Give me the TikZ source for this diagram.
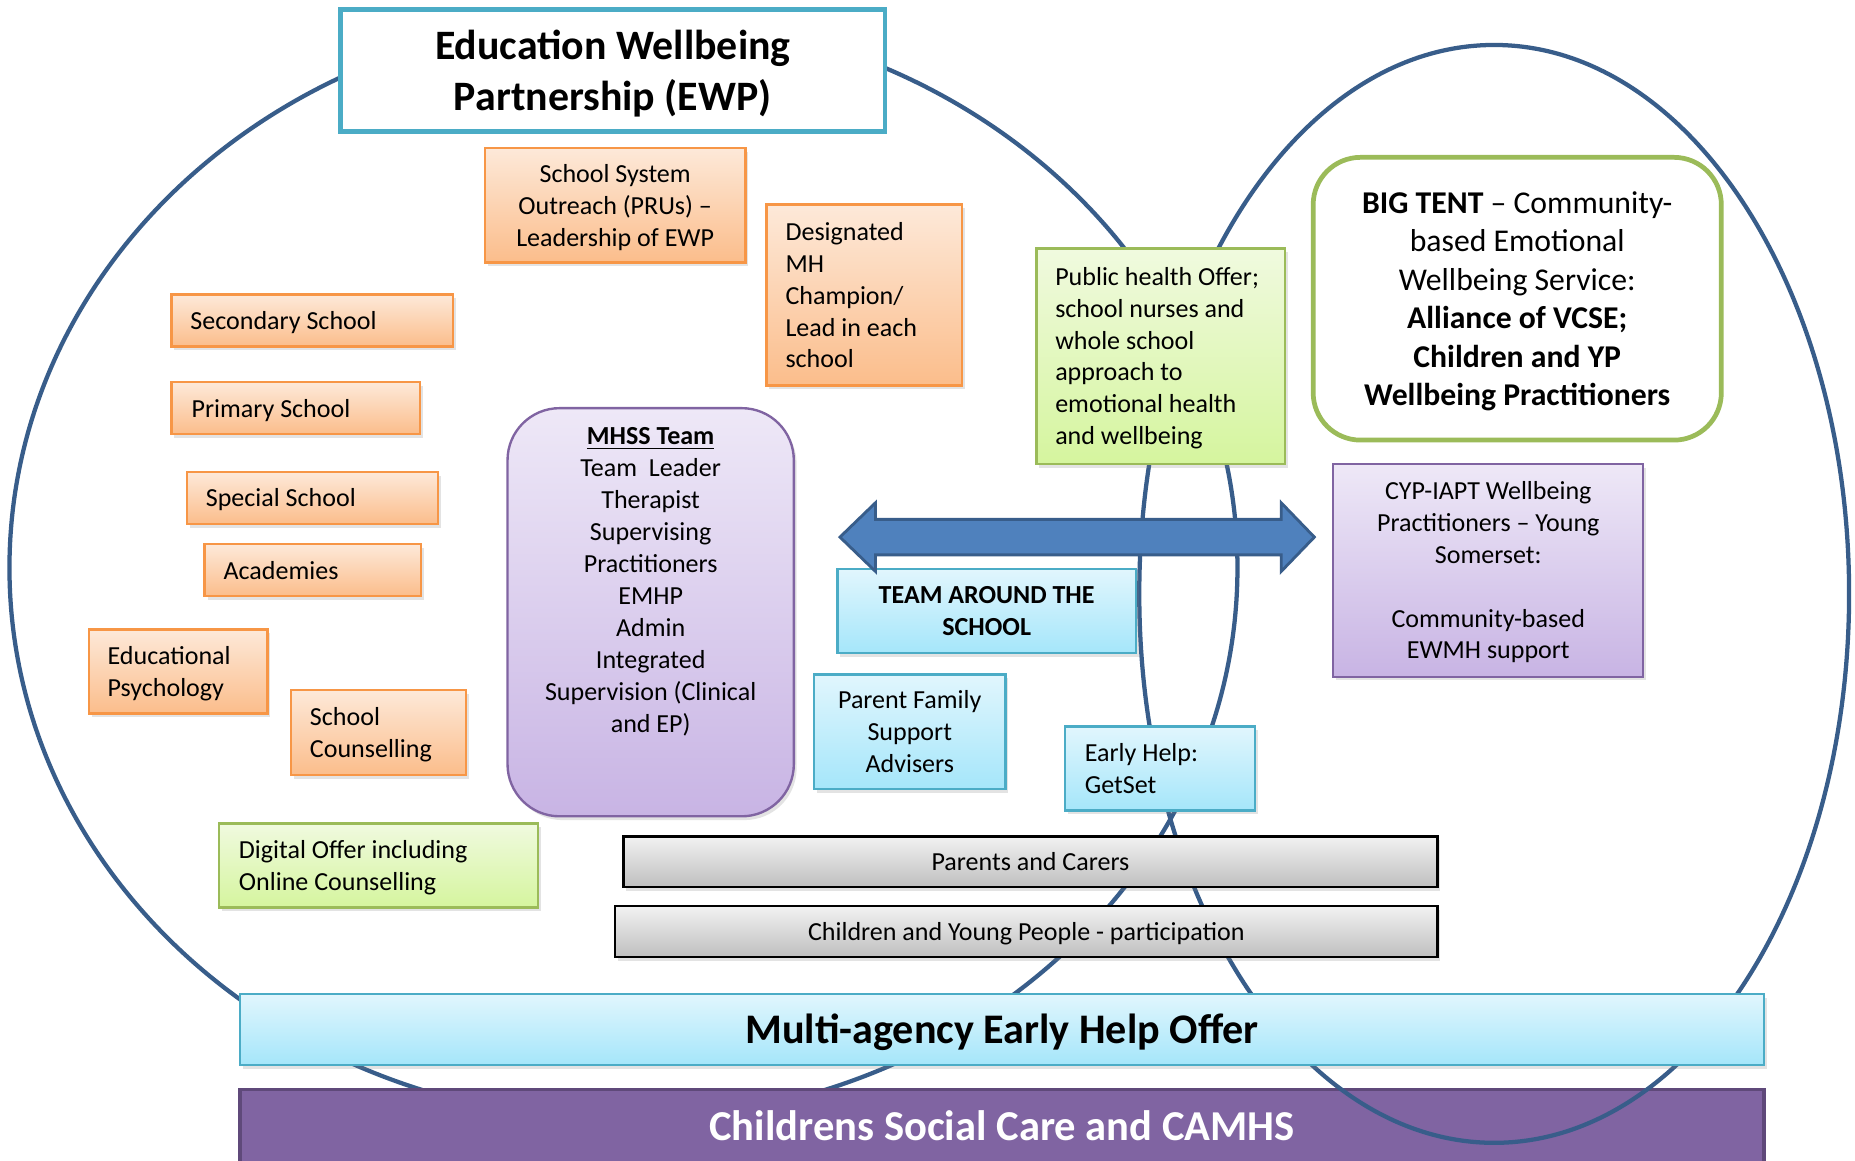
\documentclass[tikz,border=0pt]{standalone}
\usepackage{fontspec}
\setmainfont{Carlito}
\usetikzlibrary{shadows}
\definecolor{tentline}{HTML}{385D8A}
\definecolor{orB}{HTML}{F79646}
\definecolor{orT}{HTML}{FDE9D9}
\definecolor{orBt}{HTML}{FBBD8B}
\definecolor{grB}{HTML}{9BBB59}
\definecolor{grT}{HTML}{F0FADF}
\definecolor{grBt}{HTML}{D5F59E}
\definecolor{cyB}{HTML}{4BACC6}
\definecolor{cyT}{HTML}{E1F6FD}
\definecolor{cyBt}{HTML}{A5E6FA}
\definecolor{puB}{HTML}{8064A2}
\definecolor{puT}{HTML}{EEE8F7}
\definecolor{puBt}{HTML}{C8B4E4}
\definecolor{gyT}{HTML}{F2F2F2}
\definecolor{gyBt}{HTML}{BFBFBF}
\definecolor{arrowF}{HTML}{4F81BD}
\definecolor{cscF}{HTML}{8064A2}
\definecolor{cscB}{HTML}{5F497A}
\tikzset{
  wordlines/.style={execute at begin node={\rule{0pt}{0.952em}},
    execute at end node={\rule[-0.269em]{0pt}{0.269em}}},
  bodyfont/.style={font=\fontsize{11}{13.5}\selectfont},
  basebox/.style={bodyfont, wordlines, inner sep=0pt, line width=1pt,
    drop shadow={opacity=0.22, shadow xshift=1.2pt, shadow yshift=-1.6pt}},
  orangebox/.style={basebox, draw=orB, top color=orT, bottom color=orBt},
  greenbox/.style={basebox, draw=grB, top color=grT, bottom color=grBt},
  cyanbox/.style={basebox, draw=cyB, top color=cyT, bottom color=cyBt},
  purplebox/.style={basebox, draw=puB, top color=puT, bottom color=puBt},
  greybox/.style={basebox, draw=black, top color=gyT, bottom color=gyBt},
  tent/.style={draw=tentline, line width=1.8pt},
  sz/.style 2 args={minimum width=#1pt, minimum height=#2pt},
}
\begin{document}
\begin{tikzpicture}[x=0.5pt, y=-0.5pt]
\clip (0,0) rectangle (1568,981);
\fill[white] (0,0) rectangle (1568,981);
% left tent (EWP)
\draw[tent] (527,480) ellipse [x radius=259.5pt, y radius=233.5pt];
% Childrens social care
\node[sz={644}{31}, inner sep=0pt, draw=cscB, line width=1.5pt, fill=cscF, wordlines,
  text=white, font=\fontsize{18}{22}\selectfont\bfseries] (csc) at (847,952) {Childrens Social Care and CAMHS};
% right tent (BIG TENT)
\draw[tent] (1263,502) ellipse [x radius=150pt, y radius=232pt];

% EWP title
\node[sz={230}{51.5}, inner sep=0pt, draw=cyB, line width=2pt, fill=white, align=flush center, text width=226pt, wordlines,
  font=\fontsize{17.7}{21.5}\selectfont\bfseries] (ewp) at (518,59.5) {Education Wellbeing\\Partnership (EWP)};

% orange boxes
\node[orangebox, sz={110}{48.5}, align=flush center, text width=106pt] (sso) at (520,173.5) {School System\\Outreach (PRUs) –\\Leadership of EWP};
\node[orangebox, sz={82.5}{76.5}, align=flush left, text width=66.5pt] (dmh) at (730.5,249.5) {Designated\\MH\\Champion/\\Lead in each\\school};
\node[orangebox, sz={119}{22}, align=flush left, text width=103pt] (sec) at (264,271) {Secondary School};
\node[orangebox, sz={105}{22}, align=flush left, text width=88pt] (pri) at (250,345) {Primary School};
\node[orangebox, sz={106}{22}, align=flush left, text width=90pt] (spe) at (264,421) {Special School};
\node[orangebox, sz={91.5}{22}, align=flush left, text width=75.5pt] (aca) at (264.5,482) {Academies};
\node[orangebox, sz={75.5}{35.5}, align=flush left, text width=59.5pt] (edp) at (150.5,567.5) {Educational\\Psychology};
\node[orangebox, sz={74}{36}, align=flush left, text width=58pt] (sco) at (320,619) {School\\Counselling};

% green boxes
\node[greenbox, sz={135}{35.5}, align=flush left, text width=118pt] (dig) at (320,731.5) {Digital Offer including\\Online Counselling};
\node[greenbox, sz={105}{91}, align=flush left, text width=89pt] (pho) at (981,301) {Public health Offer;\\school nurses and\\whole school\\approach to\\emotional health\\and wellbeing};

% MHSS team
\node[purplebox, rounded corners=22pt, sz={121}{172.5}] (mhss) at (550,517.5) {};
\node[bodyfont, wordlines, align=flush center, text width=115pt, inner sep=0pt] (mhsstext) at (550,490) {\underline{\textbf{MHSS Team}}\\Team\ \ Leader\\Therapist\\Supervising\\Practitioners\\EMHP\\Admin\\Integrated\\Supervision (Clinical\\and EP)};

% BIG TENT
\node[sz={172.5}{119.5}, inner sep=0pt, draw=grB, line width=2pt, fill=white, rounded corners=20pt, wordlines,
  align=flush center, text width=168pt, font=\fontsize{13.4}{16.3}\selectfont] (big) at (1282.5,252.5) {\textbf{BIG TENT} – Community-\\based Emotional\\Wellbeing Service:\\\textbf{Alliance of VCSE;}\\\textbf{Children and YP}\\\textbf{Wellbeing Practitioners}};

% CYP-IAPT
\node[purplebox, sz={131}{90}, align=flush center, text width=127pt] (cyp) at (1258,482) {CYP-IAPT Wellbeing\\Practitioners – Young\\Somerset:\\[13.5pt]Community-based\\EWMH support};

% cyan boxes
\node[cyanbox, sz={126}{35.5}, align=flush center, text width=122pt, font=\fontsize{11}{13.5}\selectfont\bfseries] (tas) at (834,516.5) {TEAM AROUND THE\\SCHOOL};
\node[cyanbox, sz={81}{48.5}, align=flush center, text width=77pt] (pfs) at (769,618.5) {Parent Family\\Support\\Advisers};
\node[cyanbox, sz={80.5}{35.5}, align=flush left, text width=63.5pt] (ehg) at (980.5,649.5) {Early Help:\\GetSet};

% grey boxes
\node[greybox, sz={344}{21.5}] (pac) at (871,728.5) {Parents and Carers};
\node[greybox, sz={347.5}{21.5}] (cyps) at (867.5,787.5) {Children and Young People - participation};

% multi-agency
\node[cyanbox, sz={644}{30}, font=\fontsize{17.8}{22}\selectfont\bfseries] (mah) at (847,870) {Multi-agency Early Help Offer};

% double arrow
\draw[fill=arrowF, draw=tentline, line width=1.2pt, line join=miter]
  (710,454) -- (740,425) -- (740,439) -- (1083,439) -- (1083,425) -- (1111,454)
  -- (1083,483) -- (1083,469) -- (740,469) -- (740,483) -- cycle;
\end{tikzpicture}
\end{document}
